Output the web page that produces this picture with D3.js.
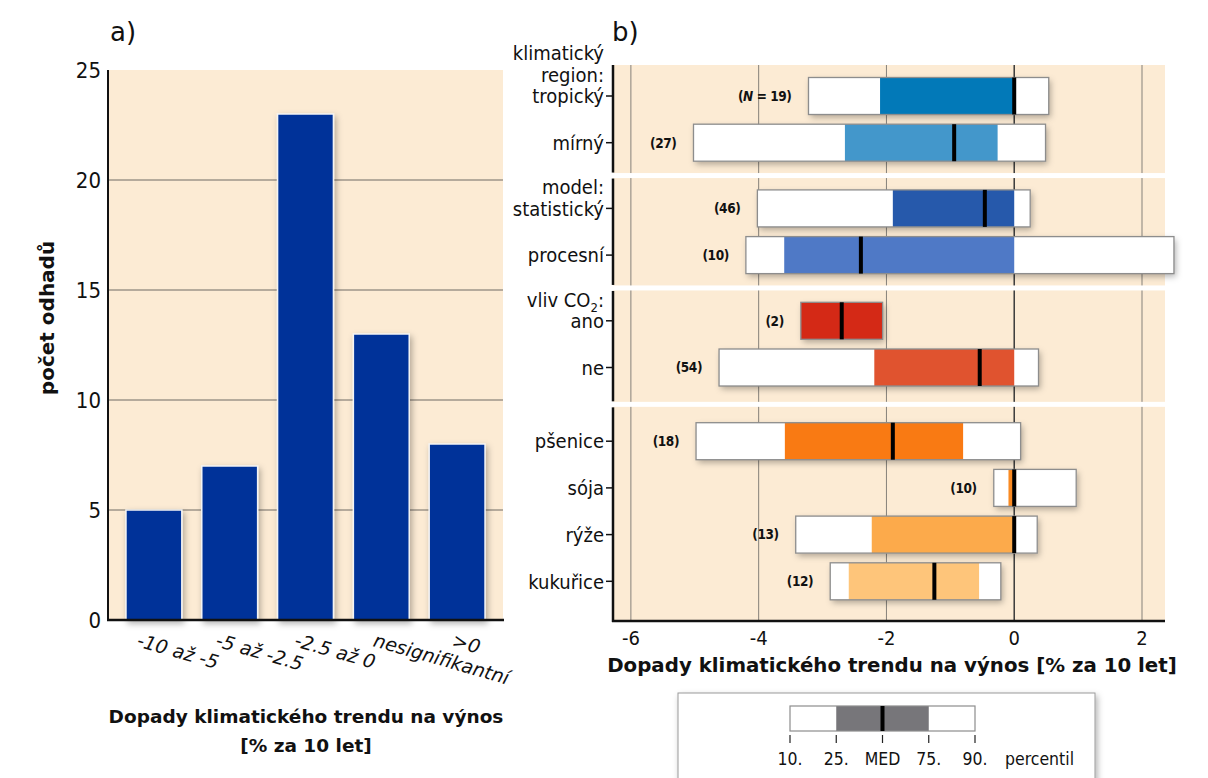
<!DOCTYPE html>
<html>
<head>
<meta charset="utf-8">
<script src="https://cdn.jsdelivr.net/npm/d3@7/dist/d3.min.js"></script>
<style>
  body { margin: 0; background: #fff; }
  svg { display: block; }
  text { font-family: "DejaVu Sans Condensed", "DejaVu Sans", sans-serif; fill: #111; }
</style>
</head>
<body>
<script>
// a) histogram
var binLabels = ["-10 až -5", "-5 až -2.5", "-2.5 až 0", "nesignifikantní", ">0"];
var binCounts = [5, 7, 23, 13, 8];
var countTicks = [0, 5, 10, 15, 20, 25];

// b) percentile boxes
var rowLabels = ["tropický", "mírný", "statistický", "procesní", "ano", "ne", "pšenice", "sója", "rýže", "kukuřice"];
var rowGroup = [0, 0, 1, 1, 2, 2, 3, 3, 3, 3];
var groupHeaders = [["klimatický", "region:"], ["model:"], ["vliv CO2:"], []];
var rowN = [19, 27, 46, 10, 2, 54, 18, 10, 13, 12];
var p10 = [-3.22, -5.02, -4.02, -4.20, -3.34, -4.62, -4.98, -0.32, -3.42, -2.88];
var p25 = [-2.10, -2.65, -1.90, -3.60, -3.34, -2.19, -3.59, -0.09, -2.23, -2.59];
var p50 = [0.00, -0.94, -0.46, -2.40, -2.70, -0.54, -1.90, 0.00, 0.00, -1.25];
var p75 = [0.00, -0.26, 0.00, 0.00, -2.06, 0.00, -0.80, 0.03, 0.00, -0.55];
var p90 = [0.54, 0.49, 0.25, 2.50, -2.06, 0.38, 0.10, 0.97, 0.36, -0.21];
var rowColors = ["#0279b8", "#4397cb", "#2659ab", "#4f79c6", "#d42916", "#e0532f", "#f97a13", "#f98a22", "#fcaa4b", "#fec57a"];
var effectTicks = [-6, -4, -2, 0, 2];
var legendLabels = ["10.", "25.", "MED", "75.", "90."];

var beige = "#fcebd4";
var svg = d3.select("body").append("svg").attr("width", 1208).attr("height", 778);

var defs = svg.append("defs");
var sh = defs.append("filter").attr("id", "shadow").attr("x", "-20%").attr("y", "-40%").attr("width", "140%").attr("height", "180%");
sh.append("feDropShadow").attr("dx", 2).attr("dy", 3).attr("stdDeviation", 3).attr("flood-color", "#000").attr("flood-opacity", 0.3);

// ---------- panel a ----------
var ax = d3.scaleBand().domain(binLabels).range([108, 503]).paddingInner(0.263).paddingOuter(0.237);
var ay = d3.scaleLinear().domain([0, 25]).range([620, 70]);

svg.append("rect").attr("x", 108).attr("y", ay(25)).attr("width", 395).attr("height", ay(0) - ay(25)).attr("fill", beige);

svg.selectAll(".agrid").data(countTicks.filter(function(d){ return d > 0 && d < 25; }))
  .enter().append("line").attr("class", "agrid")
  .attr("x1", 108).attr("x2", 503)
  .attr("y1", function(d){ return ay(d); }).attr("y2", function(d){ return ay(d); })
  .attr("stroke", "#6e6a64").attr("stroke-width", 1);

svg.selectAll(".bar").data(binCounts).enter().append("rect").attr("class", "bar")
  .attr("x", function(d, i){ return ax(binLabels[i]); })
  .attr("y", function(d){ return ay(d); })
  .attr("width", ax.bandwidth())
  .attr("height", function(d){ return ay(0) - ay(d); })
  .attr("fill", "#003399").attr("stroke", "#f4f4f4").attr("stroke-width", 1.5)
  .attr("filter", "url(#shadow)");

svg.append("line").attr("x1", 108).attr("x2", 108).attr("y1", ay(25)).attr("y2", ay(0) + 1)
  .attr("stroke", "#111").attr("stroke-width", 2);
svg.append("line").attr("x1", 107).attr("x2", 504).attr("y1", ay(0)).attr("y2", ay(0))
  .attr("stroke", "#111").attr("stroke-width", 2.5);

svg.selectAll(".aytick").data(countTicks).enter().append("text").attr("class", "aytick")
  .attr("x", 101).attr("y", function(d){ return ay(d); }).attr("dy", "0.36em")
  .attr("text-anchor", "end").style("font-size", "22px").text(function(d){ return d; });

svg.selectAll(".axtick").data(binLabels).enter().append("text").attr("class", "axtick")
  .attr("transform", function(d, i){ return "translate(" + (ax(d) + ax.bandwidth() / 2 - 18 + 3 * i) + ",646) rotate(16)"; })
  .style("font-family", "'DejaVu Sans', sans-serif").style("font-style", "italic").style("font-size", "19px")
  .text(function(d){ return d; });

svg.append("text").attr("transform", "translate(54,318) rotate(-90)").attr("text-anchor", "middle")
  .style("font-family", "'DejaVu Sans', sans-serif").style("font-weight", "bold").style("font-size", "20px")
  .text("počet odhadů");

svg.append("text").attr("x", 306).attr("y", 723).attr("text-anchor", "middle")
  .style("font-family", "'DejaVu Sans', sans-serif").style("font-weight", "bold").style("font-size", "18.5px")
  .text("Dopady klimatického trendu na výnos");
svg.append("text").attr("x", 306).attr("y", 752).attr("text-anchor", "middle")
  .style("font-family", "'DejaVu Sans', sans-serif").style("font-weight", "bold").style("font-size", "18.5px")
  .text("[% za 10 let]");

svg.append("text").attr("x", 110).attr("y", 41).style("font-family", "'DejaVu Sans', sans-serif").style("font-size", "26px").text("a)");

// ---------- panel b ----------
var bx = d3.scaleLinear().domain([-6.28, 2.36]).range([613, 1165]);
var rowStep = d3.scaleLinear().domain([0, 9]).range([96, 96 + 9 * 46.7]);
var groupShift = [0, 19, 38, 65];
var rowY = function(i){ return rowStep(i) + groupShift[rowGroup[i]]; };
var boxH = 37;
var plotTop = 65, plotBottom = 621;

svg.append("rect").attr("x", 613).attr("y", plotTop).attr("width", 1165 - 613).attr("height", plotBottom - plotTop).attr("fill", beige);

svg.selectAll(".bgrid").data(effectTicks).enter().append("line").attr("class", "bgrid")
  .attr("x1", function(d){ return bx(d); }).attr("x2", function(d){ return bx(d); })
  .attr("y1", plotTop).attr("y2", plotBottom)
  .attr("stroke", function(d){ return d === 0 ? "#3a3a3a" : "#85817a"; })
  .attr("stroke-width", function(d){ return d === 0 ? 1.5 : 1; });

// separators between groups
var seps = [];
for (var i = 1; i < rowLabels.length; i++) {
  if (rowGroup[i] !== rowGroup[i - 1]) seps.push((rowY(i) + rowY(i - 1)) / 2);
}

// left axis, drawn in segments
var segEdges = [plotTop].concat(seps).concat([plotBottom]);
for (var s = 0; s < segEdges.length - 1; s++) {
  svg.append("line").attr("x1", 613).attr("x2", 613)
    .attr("y1", segEdges[s] + (s > 0 ? 3 : 0)).attr("y2", segEdges[s + 1] - (s < segEdges.length - 2 ? 3 : -1))
    .attr("stroke", "#111").attr("stroke-width", 2.5);
}
svg.selectAll(".sep").data(seps).enter().append("rect").attr("class", "sep")
  .attr("x", 613).attr("y", function(d){ return d - 2.5; }).attr("width", 1165 - 613).attr("height", 5)
  .attr("fill", "#fff");

svg.append("line").attr("x1", 612).attr("x2", 1165).attr("y1", plotBottom).attr("y2", plotBottom)
  .attr("stroke", "#111").attr("stroke-width", 2.5);

// boxes
var rows = svg.selectAll(".row").data(rowLabels).enter().append("g").attr("class", "row");
rows.append("rect")
  .attr("x", function(d, i){ return bx(p10[i]); })
  .attr("y", function(d, i){ return rowY(i) - boxH / 2; })
  .attr("width", function(d, i){ return bx(p90[i]) - bx(p10[i]); })
  .attr("height", boxH).attr("fill", "#fff").attr("filter", "url(#shadow)");
rows.append("rect")
  .attr("x", function(d, i){ return bx(p25[i]); })
  .attr("y", function(d, i){ return rowY(i) - boxH / 2; })
  .attr("width", function(d, i){ return Math.max(0, bx(p75[i]) - bx(p25[i])); })
  .attr("height", boxH).attr("fill", function(d, i){ return rowColors[i]; });
rows.append("rect")
  .attr("x", function(d, i){ return bx(p10[i]); })
  .attr("y", function(d, i){ return rowY(i) - boxH / 2; })
  .attr("width", function(d, i){ return bx(p90[i]) - bx(p10[i]); })
  .attr("height", boxH).attr("fill", "none").attr("stroke", "#8d8d8d").attr("stroke-width", 1.3);
rows.append("line")
  .attr("x1", function(d, i){ return bx(p50[i]); }).attr("x2", function(d, i){ return bx(p50[i]); })
  .attr("y1", function(d, i){ return rowY(i) - boxH / 2; }).attr("y2", function(d, i){ return rowY(i) + boxH / 2; })
  .attr("stroke", "#000").attr("stroke-width", 4);

var nText = rows.append("text")
  .attr("x", function(d, i){ return bx(p10[i]) - 17; })
  .attr("y", function(d, i){ return rowY(i); }).attr("dy", "0.36em")
  .attr("text-anchor", "end")
  .style("font-size", "13.5px").style("font-weight", "bold").style("letter-spacing", "-0.4px");
nText.each(function(d, i){
  var t = d3.select(this);
  if (i === 0) {
    t.append("tspan").text("(");
    t.append("tspan").style("font-style", "italic").text("N");
    t.append("tspan").text(" = " + rowN[i] + ")");
  } else {
    t.text("(" + rowN[i] + ")");
  }
});

// row labels + ticks
rows.append("line").attr("x1", 606).attr("x2", 613)
  .attr("y1", function(d, i){ return rowY(i); }).attr("y2", function(d, i){ return rowY(i); })
  .attr("stroke", "#111").attr("stroke-width", 1.5);
rows.append("text").attr("x", 604).attr("y", function(d, i){ return rowY(i); }).attr("dy", "0.36em")
  .attr("text-anchor", "end").style("font-size", "20px").text(function(d){ return d; });

groupHeaders.forEach(function(lines, g){
  var first = rowGroup.indexOf(g);
  lines.forEach(function(line, k){
    var t = svg.append("text").attr("x", 604).attr("y", rowY(first) - (lines.length - k) * 21.5).attr("dy", "0.36em")
      .attr("text-anchor", "end").style("font-size", "20px");
    if (line.indexOf("CO2") >= 0) {
      t.append("tspan").text("vliv CO");
      t.append("tspan").attr("dy", "5").style("font-size", "13px").text("2");
      t.append("tspan").attr("dy", "-5").text(":");
    } else {
      t.text(line);
    }
  });
});

svg.selectAll(".bxtick").data(effectTicks).enter().append("text").attr("class", "bxtick")
  .attr("x", function(d){ return bx(d); }).attr("y", 645).attr("text-anchor", "middle")
  .style("font-size", "20px").text(function(d){ return d; });

svg.append("text").attr("x", 892).attr("y", 672).attr("text-anchor", "middle")
  .style("font-family", "'DejaVu Sans', sans-serif").style("font-weight", "bold").style("font-size", "19.8px")
  .text("Dopady klimatického trendu na výnos [% za 10 let]");

svg.append("text").attr("x", 612).attr("y", 41).style("font-family", "'DejaVu Sans', sans-serif").style("font-size", "26px").text("b)");

// ---------- legend ----------
var lx = d3.scalePoint().domain(legendLabels).range([790, 975]);
var lg = svg.append("g");
lg.append("rect").attr("x", 678).attr("y", 693).attr("width", 417).attr("height", 95)
  .attr("fill", "#fff").attr("stroke", "#9a9a9a").attr("stroke-width", 1).attr("filter", "url(#shadow)");
lg.append("rect").attr("x", lx("10.")).attr("y", 706).attr("width", lx("90.") - lx("10.")).attr("height", 25).attr("fill", "#fff");
lg.append("rect").attr("x", lx("25.")).attr("y", 706).attr("width", lx("75.") - lx("25.")).attr("height", 25).attr("fill", "#77767a");
lg.append("rect").attr("x", lx("10.")).attr("y", 706).attr("width", lx("90.") - lx("10.")).attr("height", 25)
  .attr("fill", "none").attr("stroke", "#8d8d8d").attr("stroke-width", 1.2);
lg.append("line").attr("x1", lx("MED")).attr("x2", lx("MED")).attr("y1", 706).attr("y2", 731).attr("stroke", "#000").attr("stroke-width", 4);
lg.selectAll(".ltick").data(legendLabels).enter().append("line").attr("class", "ltick")
  .attr("x1", function(d){ return lx(d); }).attr("x2", function(d){ return lx(d); })
  .attr("y1", 735).attr("y2", 743).attr("stroke", "#222").attr("stroke-width", 1.2);
lg.selectAll(".llab").data(legendLabels).enter().append("text").attr("class", "llab")
  .attr("x", function(d){ return lx(d); }).attr("y", 765).attr("text-anchor", "middle")
  .style("font-size", "17.5px").text(function(d){ return d; });
lg.append("text").attr("x", 1005).attr("y", 765).style("font-size", "17.5px").text("percentil");
</script>
</body>
</html>
